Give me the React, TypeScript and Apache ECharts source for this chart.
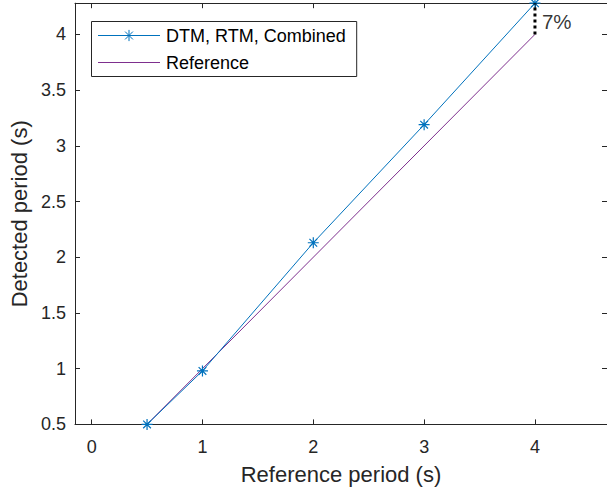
import React, { useEffect, useRef } from "react";
import * as echarts from "echarts";

// Reference (true) period of each test signal, in seconds
const refPeriod = [0.5, 1, 2, 3, 4];
// Period detected by the DTM / RTM / combined method, in seconds
const detected = [0.5, 0.98, 2.13, 3.19, 4.28];
// Ends of the ideal y = x reference line
const refLineX = [0.5, 4];
// Axis tick positions
const xTicks = [0, 1, 2, 3, 4];
const yTicks = [0.5, 1, 1.5, 2, 2.5, 3, 3.5, 4];

const FONT = "'Liberation Sans', Arial, Helvetica, sans-serif";
const AXIS = "#262626";
const BLUE = "#0072BD";
const PURPLE = "#7E2F8E";
const ASTERISK =
  "path://M0,5L10,5M5,0L5,10M1.5,1.5L8.5,8.5M1.5,8.5L8.5,1.5";

export default function App() {
  const ref = useRef<HTMLDivElement>(null);

  useEffect(() => {
    if (!ref.current) return;
    const chart = echarts.init(ref.current, undefined, { renderer: "svg" });

    const last = refPeriod.length - 1;
    const errX = refPeriod[last];
    const errTop = detected[last];
    const errPct = Math.round((errTop / errX - 1) * 100);

    const xMin = -0.15;
    const xMax = 4.65;
    const yMin = 0.5;
    const yMax = detected[last];

    const baseAxis = {
      axisLine: { show: true, onZero: false, lineStyle: { color: AXIS, width: 1 } },
      splitLine: { show: false },
    };

    chart.setOption({
      animation: false,
      grid: { left: 75, top: 3.2, width: 534, height: 421.2, containLabel: false },
      xAxis: [
        {
          ...baseAxis,
          type: "value",
          min: xMin,
          max: xMax,
          position: "bottom",
          name: "Reference period (s)",
          nameLocation: "middle",
          nameGap: 39,
          nameTextStyle: { color: AXIS, fontSize: 22, fontFamily: FONT },
          axisTick: { show: true, inside: true, length: 5, customValues: xTicks, lineStyle: { color: AXIS } },
          axisLabel: { show: true, customValues: xTicks, color: AXIS, fontSize: 18, fontFamily: FONT, margin: 14 },
        },
        {
          ...baseAxis,
          type: "value",
          min: xMin,
          max: xMax,
          position: "top",
          axisTick: { show: true, inside: true, length: 5, customValues: xTicks, lineStyle: { color: AXIS } },
          axisLabel: { show: false },
        },
      ],
      yAxis: [
        {
          ...baseAxis,
          type: "value",
          min: yMin,
          max: yMax,
          position: "left",
          name: "Detected period (s)",
          nameLocation: "middle",
          nameGap: 45,
          nameTextStyle: { color: AXIS, fontSize: 22, fontFamily: FONT },
          axisTick: { show: true, inside: true, length: 5, customValues: yTicks, lineStyle: { color: AXIS } },
          axisLabel: { show: true, customValues: yTicks, color: AXIS, fontSize: 18, fontFamily: FONT, margin: 9 },
        },
        {
          ...baseAxis,
          type: "value",
          min: yMin,
          max: yMax,
          position: "right",
          axisTick: { show: true, inside: true, length: 5, customValues: yTicks, lineStyle: { color: AXIS } },
          axisLabel: { show: false },
        },
      ],
      legend: {
        data: [
          {
            name: "DTM, RTM, Combined",
            itemStyle: { color: "none", borderColor: BLUE, borderWidth: 1 },
            lineStyle: { color: BLUE, width: 1 },
          },
          {
            name: "Reference",
            itemStyle: { opacity: 0 },
            lineStyle: { color: PURPLE, width: 1 },
          },
        ],
        orient: "vertical",
        left: 91.5,
        top: 21.5,
        padding: [4, 11, 4, 6],
        itemWidth: 62,
        itemHeight: 14,
        itemGap: 7,
        backgroundColor: "#ffffff",
        borderColor: AXIS,
        borderWidth: 1,
        borderRadius: 0,
        textStyle: { color: "#000000", fontSize: 18, fontFamily: FONT, lineHeight: 20, padding: [0, 0, 0, 1] },
      },
      series: [
        {
          name: "Reference",
          type: "line",
          data: refLineX.map((x) => [x, x]),
          symbol: "none",
          lineStyle: { color: PURPLE, width: 1 },
          itemStyle: { color: PURPLE },
          z: 2,
        },
        {
          name: "DTM, RTM, Combined",
          type: "line",
          data: refPeriod.map((x, i) => [x, detected[i]]),
          symbol: ASTERISK,
          symbolSize: 11,
          clip: false,
          lineStyle: { color: BLUE, width: 1 },
          itemStyle: { color: BLUE, borderColor: BLUE, borderWidth: 1.2 },
          z: 3,
        },
        {
          name: "error",
          type: "line",
          data: [
            [errX, errX],
            [errX, errTop],
          ],
          symbol: "none",
          clip: false,
          lineStyle: { color: "#000000", width: 3, type: [3, 3], cap: "butt" },
          z: 4,
        },
        {
          name: "errorLabel",
          type: "scatter",
          data: [[errX, (errX + errTop) / 2]],
          symbolSize: 0,
          clip: false,
          label: {
            show: true,
            position: "right",
            distance: 7,
            offset: [0, 3],
            formatter: () => `${errPct}%`,
            color: "#000000",
            fontSize: 20.5,
            fontFamily: FONT,
          },
          z: 5,
        },
      ],
    });

    return () => chart.dispose();
  }, []);

  return (
    <div
      ref={ref}
      style={{ position: "fixed", left: 0, top: 0, width: 607, height: 495, background: "#fff" }}
    />
  );
}
